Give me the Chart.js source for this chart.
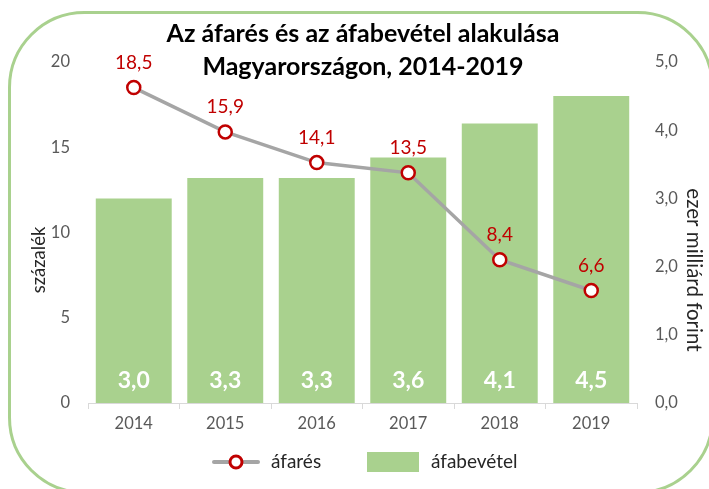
<!DOCTYPE html>
<html>
<head>
<meta charset="utf-8">
<script src="https://cdn.jsdelivr.net/npm/chart.js@4/dist/chart.umd.min.js"></script>
<style>
	html, body { margin: 0; padding: 0; background: #ffffff; }
	#wrap { width: 709px; height: 489px; }
</style>
</head>
<body>
<div id="wrap"><canvas id="canvasafa" width="709" height="489"></canvas></div>
<script>

var evek = ["2014", "2015", "2016", "2017", "2018", "2019"];
var afares = [18.5, 15.9, 14.1, 13.5, 8.4, 6.6];
var afabevetel = [3.0, 3.3, 3.3, 3.6, 4.1, 4.5];
var cimSorok = ["Az áfarés és az áfabevétel alakulása", "Magyarországon, 2014-2019"];
var balCim = "százalék";
var jobbCim = "ezer milliárd forint";
var betu = "Lato, 'Open Sans', sans-serif";

function vesszo(v, d){
	return Number(v).toFixed(d).replace('.', ',');
}

var rajzolo = {
	id: 'rajzolo',
	beforeDraw: function(chart){
		var ctx = chart.ctx;
		ctx.save();
		ctx.fillStyle = '#ffffff';
		ctx.fillRect(0, 0, chart.width, chart.height);
		// keret
		ctx.strokeStyle = '#a9d18e';
		ctx.lineWidth = 3;
		ctx.beginPath();
		ctx.roundRect(9.5, 12.5, 703, 480, 75);
		ctx.stroke();
		ctx.restore();
	},
	afterDatasetsDraw: function(chart){
		var ctx = chart.ctx;
		ctx.save();
		ctx.textAlign = 'center';
		ctx.textBaseline = 'middle';

		// oszlop feliratok
		ctx.fillStyle = '#ffffff';
		ctx.font = 'bold 23px ' + betu;
		chart.getDatasetMeta(1).data.forEach(function(el, i){
			ctx.fillText(vesszo(afabevetel[i], 1), el.x, el.base - 22);
		});

		// vonal feliratok
		ctx.fillStyle = '#c00000';
		ctx.font = '19px ' + betu;
		chart.getDatasetMeta(0).data.forEach(function(el, i){
			ctx.fillText(vesszo(afares[i], 1), el.x, el.y - 25);
		});
		ctx.restore();
	},
	afterDraw: function(chart){
		var ctx = chart.ctx;
		ctx.save();

		// cim
		ctx.fillStyle = '#000000';
		ctx.textAlign = 'center';
		ctx.textBaseline = 'middle';
		ctx.font = 'bold 25px ' + betu;
		ctx.fillText(cimSorok[0], 363, 34);
		ctx.fillText(cimSorok[1], 363, 67);

		// tengelycimek
		ctx.fillStyle = '#262626';
		ctx.font = '18.5px ' + betu;
		ctx.save();
		ctx.translate(39, 260);
		ctx.rotate(-Math.PI / 2);
		ctx.fillText(balCim, 0, 0);
		ctx.restore();
		ctx.font = '20.5px ' + betu;
		ctx.save();
		ctx.translate(694, 270);
		ctx.rotate(Math.PI / 2);
		ctx.fillText(jobbCim, 0, 0);
		ctx.restore();

		// jelmagyarazat
		var ly = 462;
		ctx.strokeStyle = '#a5a5a5';
		ctx.lineWidth = 4;
		ctx.lineCap = 'round';
		ctx.beginPath();
		ctx.moveTo(214, ly);
		ctx.lineTo(258, ly);
		ctx.stroke();
		ctx.beginPath();
		ctx.arc(236, ly, 6, 0, Math.PI * 2);
		ctx.fillStyle = '#ffffff';
		ctx.fill();
		ctx.strokeStyle = '#c00000';
		ctx.lineWidth = 3;
		ctx.stroke();

		ctx.fillStyle = '#a9d18e';
		ctx.fillRect(367, 452, 52, 20);

		ctx.fillStyle = '#262626';
		ctx.textAlign = 'left';
		ctx.font = '19px ' + betu;
		ctx.fillText('áfarés', 271, ly);
		ctx.fillText('áfabevétel', 431, ly);
		ctx.restore();
	}
};

var chart_settings = {
	type: 'bar',
	data: {
		labels: evek,
		datasets: [{
			type: 'line',
			label: 'áfarés',
			data: afares,
			yAxisID: 'y',
			order: 0,
			borderColor: '#a5a5a5',
			borderWidth: 3.5,
			pointRadius: 6.5,
			pointBorderWidth: 2.5,
			pointBorderColor: '#c00000',
			pointBackgroundColor: '#ffffff',
			tension: 0
		}, {
			type: 'bar',
			label: 'áfabevétel',
			data: afabevetel,
			yAxisID: 'y1',
			order: 1,
			backgroundColor: '#a9d18e',
			barPercentage: 0.83,
			categoryPercentage: 1
		}]
	},
	options: {
		responsive: false,
		animation: false,
		layout: { padding: { top: 62, left: 0, right: 0, bottom: 0 } },
		plugins: {
			legend: { display: false },
			title: { display: false },
			tooltip: { enabled: false }
		},
		scales: {
			x: {
				afterFit: function(s){ s.height = 86; },
				grid: {
					display: true,
					drawOnChartArea: false,
					drawTicks: true,
					tickLength: 6,
					offset: true,
					color: '#d9d9d9'
				},
				border: { display: true, color: '#d9d9d9', width: 1 },
				ticks: { color: '#595959', font: { family: betu, size: 16.5 }, padding: 5 }
			},
			y: {
				position: 'left',
				min: 0,
				max: 20,
				afterFit: function(s){ s.width = 88; },
				grid: { display: false, drawTicks: false },
				border: { display: false },
				ticks: { stepSize: 5, color: '#595959', font: { family: betu, size: 16.5 }, padding: 18 }
			},
			y1: {
				position: 'right',
				min: 0,
				max: 5,
				afterFit: function(s){ s.width = 72; },
				grid: { display: false, drawTicks: false },
				border: { display: false },
				ticks: {
					stepSize: 1,
					color: '#595959',
					font: { family: betu, size: 16.5 },
					padding: 18,
					callback: function(v){ return vesszo(v, 1); }
				}
			}
		}
	},
	plugins: [rajzolo]
};

var chart_afa = new Chart(document.getElementById('canvasafa'), chart_settings);

</script>
</body>
</html>
